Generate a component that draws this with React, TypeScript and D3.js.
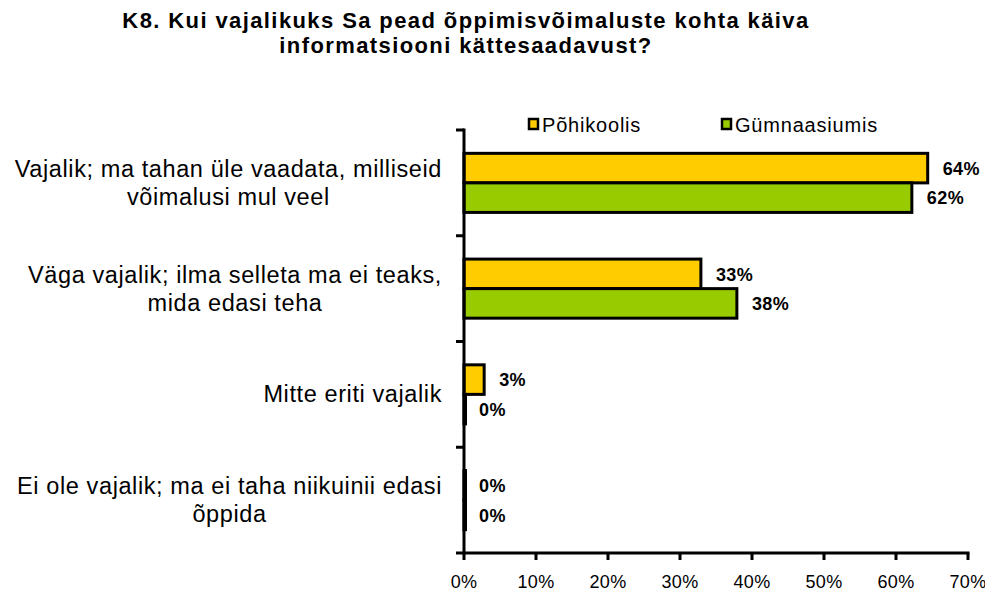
import React, { useEffect, useRef } from 'react'
import { scaleLinear, scaleBand, select } from 'd3'

// data
const categories = [
  ['Vajalik; ma tahan üle vaadata, milliseid', 'võimalusi mul veel'],
  ['Väga vajalik; ilma selleta ma ei teaks,', 'mida edasi teha'],
  ['Mitte eriti vajalik'],
  ['Ei ole vajalik; ma ei taha niikuinii edasi', 'õppida'],
]
const pohikoolis = [64.4, 32.9, 2.8, 0]
const gymnaasiumis = [62.2, 37.9, 0, 0]
const seriesNames = ['Põhikoolis', 'Gümnaasiumis']
const seriesColors = ['#FFCC00', '#99CC00']
const xTicks = [0, 10, 20, 30, 40, 50, 60, 70]
const titleLines = [
  'K8. Kui vajalikuks Sa pead õppimisvõimaluste kohta käiva',
  'informatsiooni kättesaadavust?',
]

const W = 993
const H = 598
const font = 'Arial, "Liberation Sans", sans-serif'

function App() {
  const ref = useRef<SVGSVGElement>(null)

  useEffect(() => {
    const svg = select(ref.current)
    svg.selectAll('*').remove()

    const x = scaleLinear().domain([0, 70]).range([464, 968])
    const y = scaleBand<number>()
      .domain(categories.map((_, i) => i))
      .range([130, 553])
    const inner = scaleBand<number>()
      .domain([0, 1])
      .range([0, y.bandwidth()])
      .paddingOuter(0.79)

    // title
    svg.append('g')
      .selectAll('text')
      .data(titleLines)
      .join('text')
      .attr('x', 466)
      .attr('y', (d, i) => 28 + i * 25)
      .attr('text-anchor', 'middle')
      .attr('font-family', font)
      .attr('font-weight', 'bold')
      .attr('font-size', 22)
      .attr('letter-spacing', 1.4)
      .text(d => d)

    // legend
    const legendX = [529, 722]
    const lg = svg.append('g')
    seriesNames.forEach((name, i) => {
      lg.append('rect')
        .attr('x', legendX[i])
        .attr('y', 119)
        .attr('width', 9)
        .attr('height', 10)
        .attr('fill', seriesColors[i])
        .attr('stroke', '#000')
        .attr('stroke-width', 2.5)
      lg.append('text')
        .attr('x', legendX[i] + 13)
        .attr('y', 132)
        .attr('font-family', font)
        .attr('font-size', 20)
        .attr('letter-spacing', 0.8)
        .text(name)
    })

    // bars
    const series = [pohikoolis, gymnaasiumis]
    const barG = svg.append('g')
    series.forEach((vals, s) => {
      barG.append('g')
        .selectAll('rect')
        .data(vals)
        .join('rect')
        .attr('x', x(0))
        .attr('y', (d, i) => (y(i) as number) + (inner(s) as number))
        .attr('width', d => Math.max(1.5, x(d) - x(0)))
        .attr('height', inner.bandwidth())
        .attr('fill', d => (d > 0 ? seriesColors[s] : '#000'))
        .attr('stroke', '#000')
        .attr('stroke-width', 3)

      barG.append('g')
        .selectAll('text')
        .data(vals)
        .join('text')
        .attr('x', d => x(d) + 15)
        .attr('y', (d, i) => (y(i) as number) + (inner(s) as number) + inner.bandwidth() / 2 + 2)
        .attr('dominant-baseline', 'middle')
        .attr('font-family', font)
        .attr('font-weight', 'bold')
        .attr('font-size', 18)
        .attr('letter-spacing', 0.4)
        .text(d => Math.round(d) + '%')
    })

    // axes
    const ax = svg.append('g').attr('stroke', '#000').attr('stroke-width', 3)
    ax.append('line').attr('x1', x(0)).attr('x2', x(0)).attr('y1', 128.5).attr('y2', 553)
    ax.append('line').attr('x1', x(0) - 8).attr('x2', x(70) + 1.5).attr('y1', 553).attr('y2', 553)
    ax.selectAll('.yt')
      .data(categories.map((_, i) => i))
      .join('line')
      .attr('x1', x(0) - 8)
      .attr('x2', x(0))
      .attr('y1', i => y(i) as number)
      .attr('y2', i => y(i) as number)
    ax.selectAll('.xt')
      .data(xTicks)
      .join('line')
      .attr('x1', d => x(d))
      .attr('x2', d => x(d))
      .attr('y1', 553)
      .attr('y2', 560)

    svg.append('g')
      .selectAll('text')
      .data(xTicks)
      .join('text')
      .attr('x', d => x(d))
      .attr('y', 588)
      .attr('text-anchor', 'middle')
      .attr('font-family', font)
      .attr('font-size', 18)
      .attr('letter-spacing', 0.3)
      .text(d => d + '%')

    // category labels, lines centred on each other, block right-aligned
    const catG = svg.append('g')
    categories.forEach((lines, i) => {
      const g = catG.append('g')
      const cy = (y(i) as number) + y.bandwidth() / 2
      const lh = 28
      const texts = g.selectAll('text')
        .data(lines)
        .join('text')
        .attr('y', (d, j) => cy + (j - (lines.length - 1) / 2) * lh)
        .attr('dominant-baseline', 'central')
        .attr('text-anchor', 'middle')
        .attr('font-family', font)
        .attr('font-size', 23.5)
        .attr('letter-spacing', 0.6)
        .text(d => d)
      let maxW = 0
      texts.each(function () {
        maxW = Math.max(maxW, (this as SVGTextElement).getComputedTextLength())
      })
      texts.attr('x', 442 - maxW / 2)
    })
  }, [])

  return (
    <svg ref={ref} width={W} height={H} style={{ display: 'block', margin: '-8px', background: '#fff' }} />
  )
}

export default App
